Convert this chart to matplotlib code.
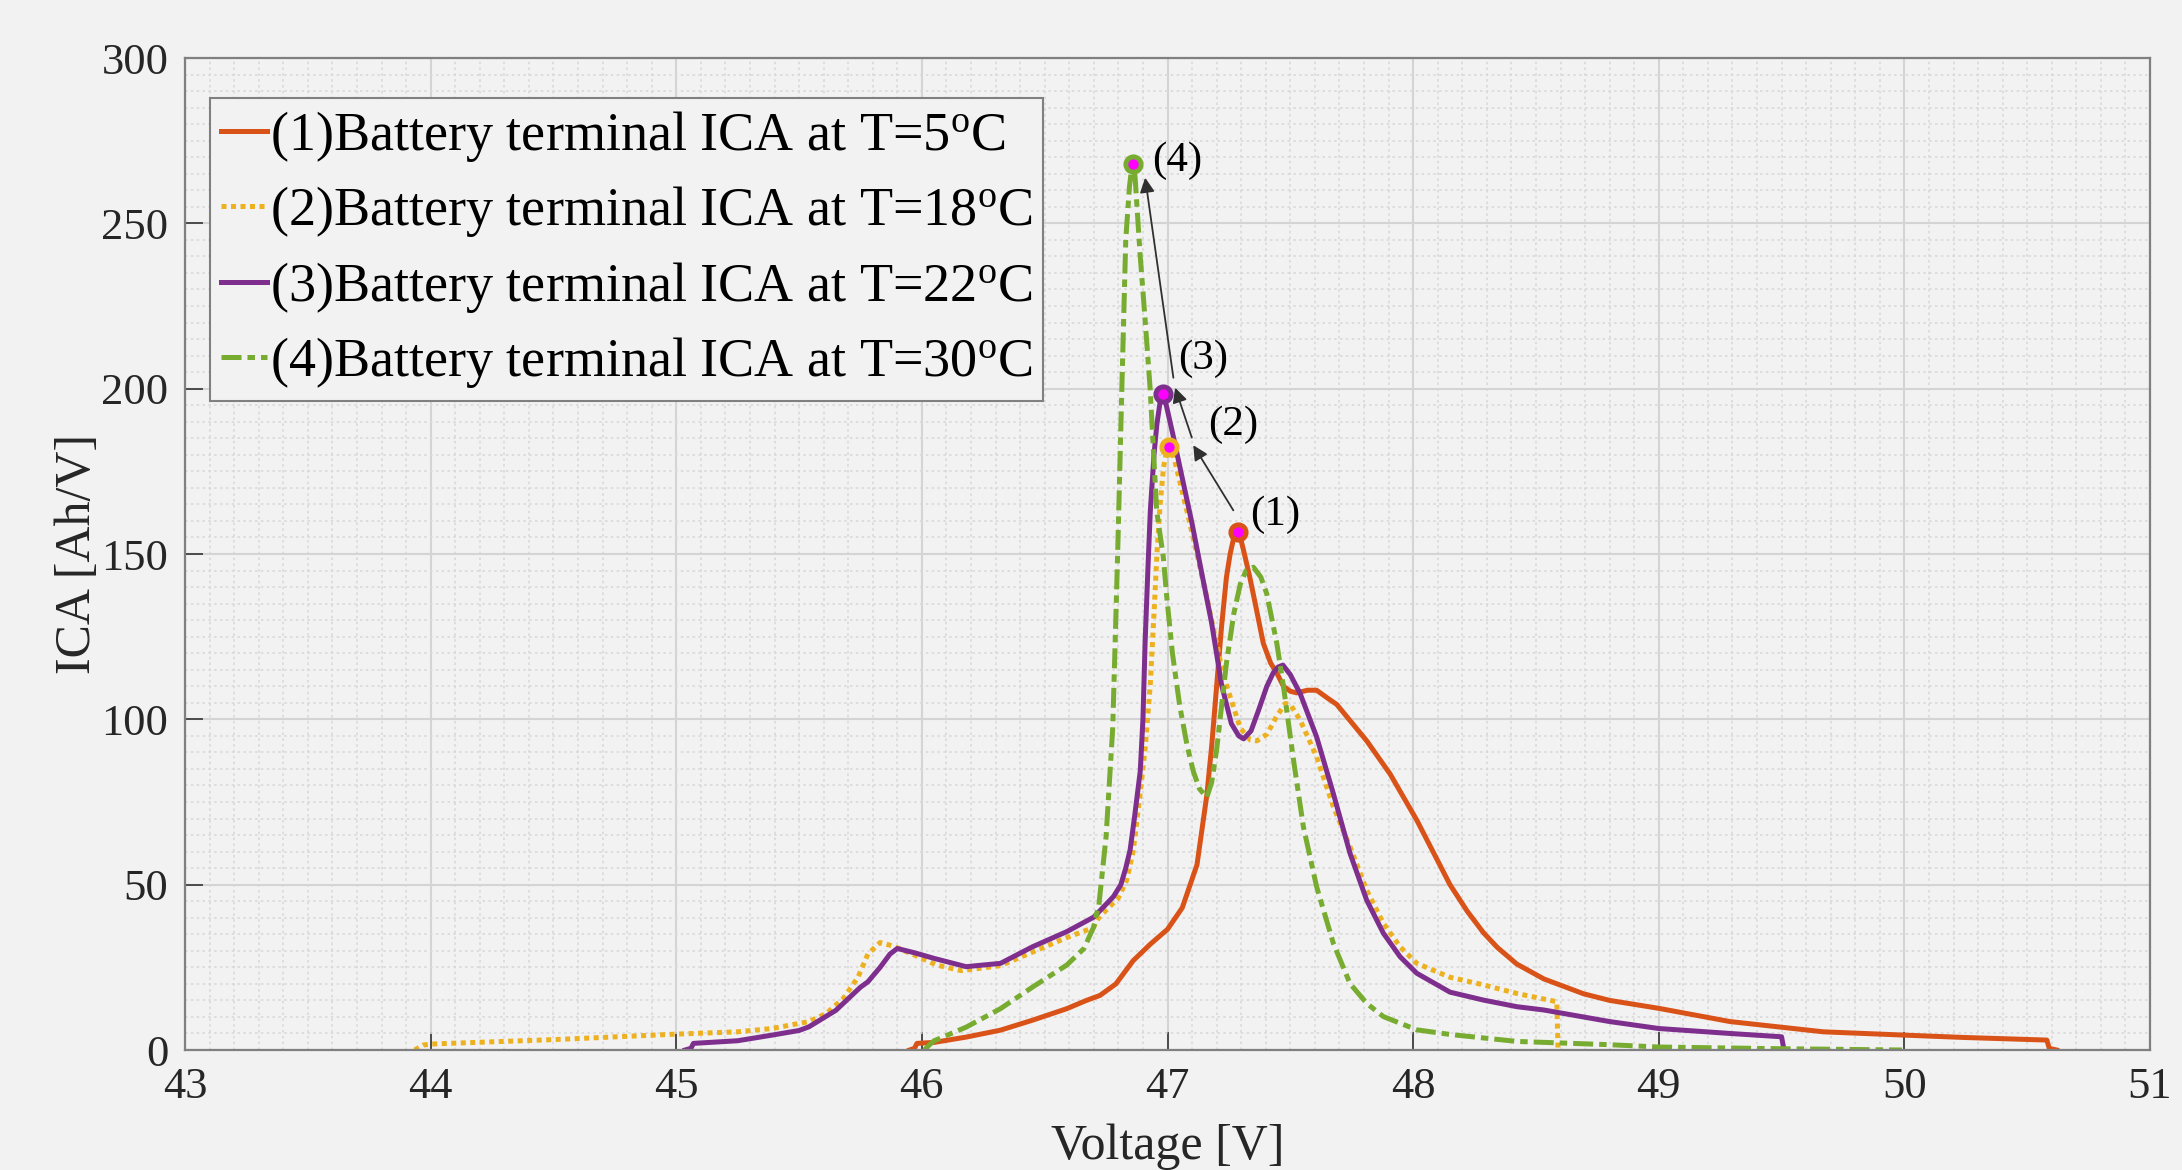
import matplotlib
matplotlib.use("Agg")
import matplotlib.pyplot as plt
from matplotlib.ticker import MultipleLocator

plt.rcParams["font.family"] = ["Liberation Serif", "DejaVu Serif"]
plt.rcParams["mathtext.fontset"] = "custom"
plt.rcParams["mathtext.rm"] = "Liberation Serif"
plt.rcParams["mathtext.it"] = "Liberation Serif:italic"

BG = "#f2f2f2"

# (1) T=5 C
v5 = [45.95, 45.97, 45.98, 46.05, 46.18, 46.32, 46.45, 46.59, 46.67, 46.725, 46.79,
      46.86, 46.93, 47.00, 47.06, 47.12, 47.16, 47.18, 47.20, 47.22, 47.24, 47.255,
      47.27, 47.286, 47.30, 47.31, 47.335, 47.36, 47.39, 47.42, 47.445, 47.472,
      47.50, 47.526, 47.57, 47.607, 47.65, 47.689, 47.75, 47.811, 47.906, 48.015,
      48.15, 48.22, 48.286, 48.343, 48.422, 48.532, 48.694, 48.80, 49.0, 49.29,
      49.67, 50.0, 50.24, 50.58, 50.59, 50.62]
i5 = [0, 0.5, 2.0, 2.3, 3.9, 6.0, 9.0, 12.5, 15, 16.5, 20,
      27, 32, 36.5, 43, 56, 77, 92, 110, 128, 143, 150,
      155, 156.6, 154, 151, 143, 134, 123, 117, 114, 110,
      108.5, 108, 108.8, 108.8, 106.5, 104.5, 99, 93.5, 83.5, 69.5,
      50, 42, 35.5, 31, 26, 21.5, 17, 15, 12.6, 8.6,
      5.5, 4.5, 3.8, 3.0, 0.5, 0]

# (2) T=18 C
v18 = [43.935, 43.97, 44.0, 44.52, 45.0, 45.25, 45.39, 45.54, 45.61, 45.68, 45.74,
       45.78, 45.83, 45.88, 45.97, 46.06, 46.16, 46.32, 46.59, 46.698, 46.72, 46.80,
       46.834, 46.86, 46.889, 46.91, 46.93, 46.945, 46.957, 46.97, 46.984, 46.995,
       47.008, 47.02, 47.04, 47.078, 47.12, 47.16, 47.228, 47.296, 47.336, 47.364,
       47.405, 47.445, 47.48, 47.50, 47.54, 47.607, 47.675, 47.743, 47.811, 47.879,
       47.947, 48.015, 48.15, 48.286, 48.422, 48.585, 48.59]
i18 = [0, 1.5, 1.8, 3.2, 4.8, 5.5, 6.5, 8.6, 11, 15.6, 22,
       29, 32.5, 31.5, 28.7, 25.7, 24, 25.5, 34, 37, 40, 46,
       51.4, 60, 77.7, 92, 110.6, 132, 150, 165, 176.3, 180.5,
       182.5, 181, 175, 163.3, 150, 136.8, 113.2, 97.4, 93.8, 93.5,
       95.5, 101, 104.8, 104.5, 99.8, 88.7, 73.6, 61.5, 48.3, 38.3,
       31.2, 26.2, 22, 19.7, 17.1, 14.6, 0]

# (3) T=22 C
v22 = [45.036, 45.06, 45.07, 45.25, 45.39, 45.5, 45.54, 45.65, 45.75, 45.78, 45.83,
       45.87, 45.90, 45.97, 46.05, 46.18, 46.32, 46.45, 46.59, 46.70, 46.78, 46.81,
       46.83, 46.848, 46.865, 46.889, 46.90, 46.909, 46.92, 46.930, 46.945, 46.957,
       46.97, 46.98, 46.995, 47.02, 47.06, 47.10, 47.14, 47.18, 47.22, 47.26, 47.29,
       47.31, 47.34, 47.37, 47.404, 47.43, 47.45, 47.47, 47.50, 47.54, 47.607, 47.675,
       47.743, 47.811, 47.879, 47.947, 48.015, 48.15, 48.286, 48.422, 48.532, 48.80,
       49.0, 49.29, 49.50, 49.51]
i22 = [0, 0.5, 2, 2.8, 4.5, 5.9, 7, 12, 19, 20.6, 25,
       29, 30.7, 29.4, 27.7, 25.2, 26.2, 31.2, 35.8, 40.2, 46.4, 50,
       55, 60.6, 70, 84.3, 100, 123.7, 145, 163, 180, 189.4,
       196, 198.4, 195, 186.8, 173, 159.2, 144, 129, 110.5, 98.7, 95,
       94.1, 96.5, 102.6, 109.9, 114, 115.8, 116.4, 113.5, 107.8, 94.7, 77.6,
       59.5, 45.3, 35.3, 28.2, 23.2, 17.5, 15.1, 13.1, 12.1, 8.6,
       6.5, 5.0, 4.0, 0]

# (4) T=30 C
v30 = [46.01, 46.03, 46.05, 46.18, 46.32, 46.45, 46.59, 46.66, 46.70, 46.71, 46.72,
       46.75, 46.777, 46.797, 46.815, 46.83, 46.845, 46.853, 46.86, 46.868, 46.888,
       46.909, 46.929, 46.956, 46.983, 46.997, 47.02, 47.05, 47.08, 47.105, 47.13,
       47.16, 47.18, 47.2, 47.24, 47.27, 47.296, 47.32, 47.35, 47.38, 47.404, 47.445,
       47.472, 47.513, 47.553, 47.607, 47.675, 47.743, 47.811, 47.879, 48.015, 48.15,
       48.422, 48.80, 49.0, 49.48, 49.99]
i30 = [0, 1.5, 2.8, 6.9, 12.5, 19, 25.7, 30.7, 37.3, 40.9, 43.4,
       64.6, 97.4, 150, 202.6, 245, 261, 266, 267.8, 264, 241,
       220.7, 200.3, 163, 149, 137, 120, 104, 92, 84.3, 79,
       76.4, 81, 90.8, 117, 132, 140.8, 145, 146, 143, 138, 123,
       110, 87.7, 67.6, 49.4, 32.3, 20.1, 14.1, 10.1, 6.1, 4.7,
       2.6, 1.6, 0.9, 0.4, 0]

labels = [r"(1)Battery terminal ICA at T=5$^{\mathrm{o}}$C",
          r"(2)Battery terminal ICA at T=18$^{\mathrm{o}}$C",
          r"(3)Battery terminal ICA at T=22$^{\mathrm{o}}$C",
          r"(4)Battery terminal ICA at T=30$^{\mathrm{o}}$C"]
colors = ["#D95319", "#EDB120", "#7E2F8E", "#77AC30"]

# peak markers and annotation labels
peak_v = [47.286, 47.008, 46.98, 46.86]
peak_i = [156.6, 182.5, 198.4, 267.8]
tag_text = ["(1)", "(2)", "(3)", "(4)"]
tag_v = [47.336, 47.167, 47.045, 46.936]
tag_i = [162, 189, 209, 269]
arrow_tail = [(47.268, 163.2), (47.099, 185.2), (47.024, 203.3)]
arrow_head = [(47.105, 182.9), (47.031, 200.3), (46.909, 263.8)]

fig = plt.figure(figsize=(21.82, 11.70), dpi=100, facecolor=BG)
ax = fig.add_axes([185 / 2182, 1 - 1050 / 1170, 1965 / 2182, 992 / 1170])
ax.set_facecolor(BG)

lw = 3.6
ax.plot(v5, i5, color=colors[0], lw=lw, ls="-", label=labels[0])
ax.plot(v18, i18, color=colors[1], lw=lw, ls=(0, (1, 0.9)), label=labels[1])
ax.plot(v22, i22, color=colors[2], lw=lw, ls="-", label=labels[2])
ax.plot(v30, i30, color=colors[3], lw=lw, ls=(0, (4, 1.2, 1.5, 1.2)), label=labels[3])

for k in range(4):
    ax.plot(peak_v[k], peak_i[k], "o", ms=11, mfc="#ff00ff", mec=colors[k], mew=3.5, zorder=5)
    ax.text(tag_v[k], tag_i[k], tag_text[k], fontsize=31, ha="left", va="center")
for tail, head in zip(arrow_tail, arrow_head):
    ax.annotate("", xy=head, xytext=tail,
                arrowprops=dict(arrowstyle="-|>", color="#303030", lw=1.3,
                                mutation_scale=22, shrinkA=0, shrinkB=0))

ax.set_xlim(43, 51)
ax.set_ylim(0, 300)
ax.xaxis.set_major_locator(MultipleLocator(1))
ax.yaxis.set_major_locator(MultipleLocator(50))
ax.xaxis.set_minor_locator(MultipleLocator(0.1))
ax.yaxis.set_minor_locator(MultipleLocator(5))
ax.grid(True, which="major", color="#d4d4d4", lw=1.5, ls="-")
ax.grid(True, which="minor", color="#d9d9d9", lw=1.2, ls=(0, (1.5, 2)))
ax.set_axisbelow(True)
ax.tick_params(which="major", direction="in", length=13, width=1.3, color="#404040",
               labelsize=32, pad=12, labelcolor="#262626")
ax.tick_params(which="minor", length=0)
for s in ax.spines.values():
    s.set_color("#808080")
    s.set_linewidth(1.6)

ax.set_xlabel("Voltage [V]", fontsize=36, color="#262626", labelpad=12)
ax.set_ylabel("ICA [Ah/V]", fontsize=36, color="#262626", labelpad=0)

leg = ax.legend(loc="upper left", bbox_to_anchor=(0.0127, 0.9600), borderaxespad=0,
                fontsize=39, handlelength=0.85, handletextpad=0.05, labelspacing=0.38,
                borderpad=0.2, fancybox=False, framealpha=1, facecolor=BG,
                edgecolor="#808080")
leg.get_frame().set_linewidth(1.5)

fig.savefig("out.png", dpi=100, facecolor=BG)
